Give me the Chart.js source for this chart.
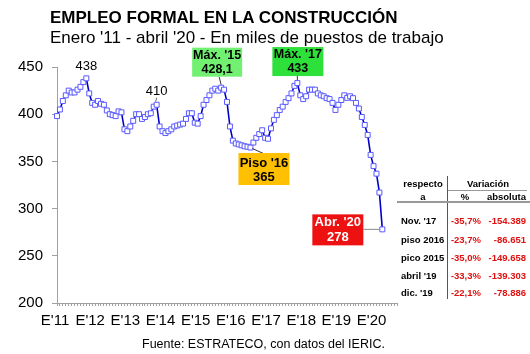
<!DOCTYPE html>
<html><head><meta charset="utf-8">
<script src="https://cdn.jsdelivr.net/npm/chart.js@4.4.1/dist/chart.umd.min.js"></script>
<style>
html,body{margin:0;padding:0;background:#fff;}
#wrap{position:relative;width:530px;height:354px;font-family:"Liberation Sans",Arial,sans-serif;overflow:hidden;background:#fff;}
#wrap canvas{position:absolute;left:0;top:0;}
.t{position:absolute;white-space:nowrap;line-height:1;color:#000;}
.tb{font-size:9.5px;font-weight:bold;}
.ln{position:absolute;}
</style></head>
<body>
<div id="wrap">
<canvas id="c" width="530" height="354"></canvas>
<div class="t" style="left:50px;top:9px;font-size:17px;font-weight:bold">EMPLEO FORMAL EN LA CONSTRUCCIÓN</div>
<div class="t" style="left:50px;top:29px;font-size:17px">Enero '11 - abril '20 - En miles de puestos de trabajo</div>
<div class="t" style="left:142px;top:338px;font-size:12.5px">Fuente: ESTRATECO, con datos del IERIC.</div>
</div>
<script>
// ---- data (miles de puestos de trabajo) ----
const years = ['11','12','13','14','15','16','17','18','19','20'];
const monthNames = ['ene','feb','mar','abr','may','jun','jul','ago','sep','oct','nov','dic'];
const empleo2011 = [398, 405, 414, 420, 425, 423, 423, 426, 429, 434, 438, 422];
const empleo2012 = [412, 410, 414, 411, 410, 404, 400, 399, 398, 403, 402, 384];
const empleo2013 = [382, 387, 393, 400, 400, 395, 397, 400, 401, 408, 410, 387];
const empleo2014 = [382, 380, 382, 384, 387, 388, 389, 390, 395, 401, 401, 391];
const empleo2015 = [390, 398, 410, 415, 420, 425, 427, 425, 428.1, 426, 413, 387];
const empleo2016 = [372, 369, 368, 367, 366, 365.5, 364.7, 370, 375, 379, 383, 375];
const empleo2017 = [374, 385, 394, 399, 404.5, 408, 413, 417, 422, 430, 433, 420];
const empleo2018 = [416, 419, 426, 426, 426, 422, 420, 419, 417, 416, 412, 404.5];
const empleo2019 = [410, 415, 420, 417.3, 419, 417, 412, 406, 397, 388.6, 378, 356.9];
const empleo2020 = [345, 337, 317, 278];
const yTicks = [200, 250, 300, 350, 400, 450];

// table
const tablaRespecto = ["Nov. '17", "piso 2016", "pico 2015", "abril '19", "dic. '19"];
const tablaPct = ["-35,7%", "-23,7%", "-35,0%", "-33,3%", "-22,1%"];
const tablaAbs = ["-154.389", "-86.651", "-149.658", "-139.303", "-78.886"];

const valores = [].concat(empleo2011, empleo2012, empleo2013, empleo2014, empleo2015,
  empleo2016, empleo2017, empleo2018, empleo2019, empleo2020);

// categories: months Jan'11 .. Sep'20 (axis runs a bit past last data)
const categorias = [];
years.forEach(y => monthNames.forEach(m => categorias.push(m + "-" + y)));
const categoriasEje = categorias.slice(0, 117);

const FONT = '"Liberation Sans", Arial, sans-serif';

const annotPlugin = {
  id: 'annot',
  afterDatasetsDraw(chart) {
    const ctx = chart.ctx;
    const pts = chart.getDatasetMeta(0).data;
    const idx = (lbl) => categorias.indexOf(lbl);
    ctx.save();
    ctx.fillStyle = '#000';
    ctx.font = '13px ' + FONT;
    ctx.textAlign = 'center';
    ctx.textBaseline = 'middle';
    let p = pts[idx('nov-11')];
    ctx.fillText('438', p.x, p.y - 12);
    p = pts[idx('nov-13')];
    ctx.fillText('410', p.x, p.y - 13);
    ctx.strokeStyle = '#444'; ctx.lineWidth = 0.8;
    ctx.beginPath(); ctx.moveTo(p.x, p.y - 7); ctx.lineTo(p.x - 1, p.y - 3); ctx.stroke();

    function box(left, top, w, h, bg, fg, l1, l2, fs, d1, d2) {
      ctx.fillStyle = bg;
      ctx.fillRect(left, top, w, h);
      ctx.fillStyle = fg;
      ctx.font = 'bold ' + fs + 'px ' + FONT;
      ctx.textAlign = 'center';
      ctx.textBaseline = 'middle';
      ctx.fillText(l1, left + w / 2, top + d1);
      ctx.fillText(l2, left + w / 2, top + d2);
    }
    function line(x1, y1, x2, y2, c) {
      ctx.strokeStyle = c; ctx.lineWidth = 1;
      ctx.beginPath(); ctx.moveTo(x1, y1); ctx.lineTo(x2, y2); ctx.stroke();
    }
    p = pts[idx('sep-15')];
    line(p.x - 2, p.y - 11, p.x, p.y - 3, '#333');
    box(p.x - 29, p.y - 40, 50, 29, '#72f072', '#000', "Máx. '15", "428,1", 12.5, 7.5, 21.5);
    p = pts[idx('nov-17')];
    line(p.x, p.y - 7, p.x, p.y - 3, '#333');
    box(p.x - 25, p.y - 36, 51, 29, '#2ee03a', '#000', "Máx. '17", "433", 12.5, 7.5, 21.5);
    p = pts[idx('jul-16')];
    line(p.x + 2, p.y + 1, p.x + 13, p.y + 6, '#333');
    box(p.x - 12, p.y + 5.5, 51, 32, '#ffc000', '#000', "Piso '16", "365", 13, 10, 24);
    p = pts[idx('abr-20')];
    line(p.x - 19, p.y, p.x - 3, p.y, '#888');
    box(p.x - 70, p.y - 15, 51, 31, '#ee1111', '#fff', "Abr. '20", "278", 13, 8.5, 23.5);
    ctx.restore();
  }
};

new Chart(document.getElementById('c'), {
  type: 'line',
  data: {
    labels: categoriasEje,
    datasets: [{
      data: valores,
      borderColor: '#0000c8',
      borderWidth: 1.6,
      tension: 0,
      pointStyle: 'rect',
      pointRadius: 3.5,
      pointBorderWidth: 1,
      pointBorderColor: '#5a5aff',
      pointBackgroundColor: '#ffffff',
      clip: false
    }]
  },
  options: {
    responsive: false,
    animation: false,
    events: [],
    layout: { padding: { left: 0, top: 67, right: 133, bottom: 0 } },
    plugins: { legend: { display: false }, tooltip: { enabled: false }, title: { display: false } },
    scales: {
      x: {
        type: 'category',
        offset: false,
        afterFit(s) { s.height = 51; },
        border: { display: true, color: '#a0a0a0', width: 1 },
        grid: { display: true, drawOnChartArea: false, drawTicks: true, tickLength: 3, color: '#a0a0a0' },
        ticks: {
          autoSkip: false, maxRotation: 0, minRotation: 0, padding: 6, labelOffset: -2,
          color: '#000', font: { family: FONT, size: 15 },
          callback(v, i) {
            const lbl = categoriasEje[i];
            return lbl.startsWith('ene-') ? "E'" + lbl.slice(4) : '';
          }
        }
      },
      y: {
        min: yTicks[0], max: yTicks[yTicks.length - 1],
        afterFit(s) { s.width = 57; },
        afterBuildTicks(s) { s.ticks = yTicks.map(v => ({ value: v })); },
        border: { display: true, color: '#a0a0a0', width: 1 },
        grid: { display: true, drawOnChartArea: false, drawTicks: true, tickLength: 5, color: '#a0a0a0' },
        ticks: { padding: 9, color: '#000', font: { family: FONT, size: 15 } }
      }
    }
  },
  plugins: [annotPlugin]
});

// table (DOM text)
const wrap = document.getElementById('wrap');
function txt(s, css) {
  const d = document.createElement('div');
  d.className = 't tb';
  d.textContent = s;
  d.style.cssText = css;
  wrap.appendChild(d);
  return d;
}
function ln(css) { const d = document.createElement('div'); d.className = 'ln'; d.style.cssText = css; wrap.appendChild(d); }
txt('respecto', 'left:398px;width:50px;text-align:center;top:178.5px;');
txt('a', 'left:398px;width:50px;text-align:center;top:191.5px;');
txt('Variación', 'left:448px;width:80px;text-align:center;top:178.5px;');
txt('%', 'left:455px;width:20px;text-align:center;top:191.5px;');
txt('absoluta', 'right:4px;top:191.5px;');
ln('left:447px;top:176px;width:1px;height:123px;background:#555;');
ln('left:448px;top:190px;width:79px;height:1px;background:#999;');
ln('left:397px;top:201px;width:133px;height:2px;background:#999;');
const rowY = [221, 239.3, 257.3, 275.3, 293];
tablaRespecto.forEach((r, i) => {
  const top = (rowY[i] - 4.7) + 'px';
  txt(r, 'left:401px;top:' + top + ';');
  txt(tablaPct[i], 'right:49px;top:' + top + ';color:#e01010;');
  txt(tablaAbs[i], 'right:4px;top:' + top + ';color:#e01010;');
});
</script>
</body></html>
